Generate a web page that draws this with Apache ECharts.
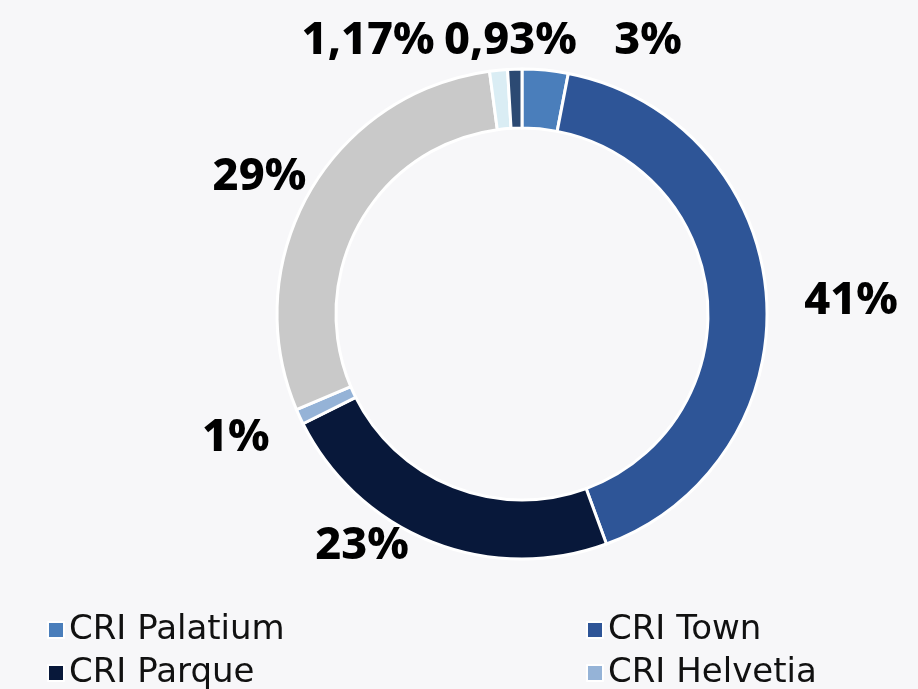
<!DOCTYPE html>
<html>
<head>
<meta charset="utf-8">
<script src="https://cdn.jsdelivr.net/npm/echarts@6/dist/echarts.min.js"></script>
<style>
  html, body { margin: 0; padding: 0; background: #f7f7f9; }
  #chart { width: 918px; height: 689px; }
</style>
</head>
<body>
<div id="chart"></div>
<script>
// data
var names = ['CRI Palatium', 'CRI Town', 'CRI Parque', 'CRI Helvetia', 'Otros', 'Otros 2', 'Otros 3'];
var values = [3, 41, 23, 1, 29, 1.17, 0.93];
var colors = ['#4a7ebb', '#2e5597', '#08183a', '#95b3d7', '#c9c9c9', '#daedf4', '#2c4a73'];

// legend entries as laid out in the picture (two columns, two rows visible)
var legendItems = ['CRI Palatium', 'CRI Town', 'CRI Parque', 'CRI Helvetia'];
var legendCols = [47, 586];
var legendRows = [613, 656];

// small nudges of the outside labels (dx, dy)
var labelNudge = [[64, -29], [33, 7], [-18, 4], [-25, 21], [2, -15], [-59, -29], [67, -28]];

var chart = echarts.init(document.getElementById('chart'));

var legendText = { fontFamily: 'DejaVu Sans', fontSize: 34, color: '#111', lineHeight: 34 };

var legends = legendItems.map(function (n, i) {
  return {
    data: [n],
    left: legendCols[i % 2],
    top: legendRows[Math.floor(i / 2)],
    padding: 0,
    icon: 'rect', itemWidth: 16, itemHeight: 16, itemGap: 0, itemTextGap: 14,
    itemStyle: { borderColor: '#fff', borderWidth: 2 },
    textStyle: legendText,
    selectedMode: false
  };
});

chart.setOption({
  backgroundColor: '#f7f7f9',
  color: colors,
  legend: legends,
  series: [{
    type: 'pie',
    center: [522, 314],
    radius: [186, 245],
    startAngle: 90,
    clockwise: true,
    avoidLabelOverlap: false,
    itemStyle: { borderColor: '#fff', borderWidth: 3 },
    label: {
      show: true,
      position: 'outside',
      fontFamily: 'Noto Sans',
      fontStyle: 'normal',
      fontWeight: 800,
      fontSize: 45,
      color: '#000',
      formatter: function (p) { return String(p.value).replace('.', ',') + '%'; }
    },
    labelLine: { show: false, length: 0, length2: 0 },
    labelLayout: function (p) {
      var n = labelNudge[p.dataIndex];
      return { dx: n[0], dy: n[1] };
    },
    emphasis: { disabled: true },
    data: names.map(function (n, i) { return { name: n, value: values[i] }; })
  }]
});
</script>
</body>
</html>
